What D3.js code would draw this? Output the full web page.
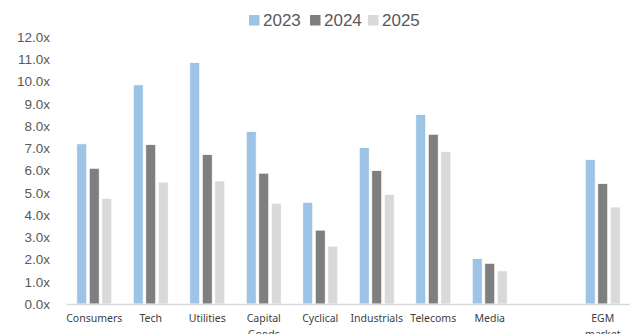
<!DOCTYPE html>
<html>
<head>
<meta charset="utf-8">
<script src="https://cdn.jsdelivr.net/npm/d3@7"></script>
<style>
  html, body { margin: 0; padding: 0; background: #fff; }
  svg { display: block; }
</style>
</head>
<body>
<svg id="chart" width="630" height="334"></svg>
<script>
// Sector valuation multiples by year
const categories = ["Consumers", "Tech", "Utilities", "Capital\nGoods", "Cyclical",
                    "Industrials", "Telecoms", "Media", "", "EGM\nmarket"];
const seriesNames = ["2023", "2024", "2025"];
const values2023 = [7.2, 9.85, 10.85, 7.75, 4.57, 7.03, 8.52, 2.05, null, 6.5];
const values2024 = [6.1, 7.17, 6.72, 5.88, 3.32, 6.0, 7.63, 1.83, null, 5.42];
const values2025 = [4.75, 5.48, 5.53, 4.53, 2.6, 4.93, 6.86, 1.49, null, 4.36];
const yTicks = [0, 1, 2, 3, 4, 5, 6, 7, 8, 9, 10, 11, 12];
const colors = ["#9dc3e6", "#7f7f7f", "#d9d9d9"];

const series = [values2023, values2024, values2025];

const svg = d3.select("#chart");
const plot = { left: 66, right: 631, top: 37, bottom: 304 };

const x = d3.scaleBand()
  .domain(d3.range(categories.length))
  .range([plot.left, plot.right])
  .paddingInner(0.38)
  .paddingOuter(0.19);

const xInner = d3.scaleBand()
  .domain(seriesNames)
  .range([0, x.bandwidth()])
  .paddingInner(0.2);

const y = d3.scaleLinear().domain([0, 12]).range([plot.bottom, plot.top]);

// Y axis labels
const yAxis = d3.axisLeft(y)
  .tickValues(yTicks)
  .tickFormat(d => d.toFixed(1) + "x")
  .tickSize(0)
  .tickPadding(0);

const yg = svg.append("g")
  .attr("transform", `translate(50,0)`)
  .call(yAxis);
yg.select(".domain").remove();
yg.selectAll("text")
  .attr("font-family", "Liberation Sans, Arial, sans-serif")
  .attr("font-size", 13.5)
  .attr("fill", "#595959");

// Bars
series.forEach((vals, si) => {
  svg.append("g")
    .selectAll("rect")
    .data(vals.map((v, i) => ({ v, i })).filter(d => d.v != null))
    .join("rect")
    .attr("x", d => x(d.i) + xInner(seriesNames[si]))
    .attr("y", d => y(d.v))
    .attr("width", xInner.bandwidth())
    .attr("height", d => y(0) - y(d.v))
    .attr("fill", colors[si])
    .attr("stroke", "#ffffff")
    .attr("stroke-width", 0.8);
});

// Category axis
const xAxis = d3.axisBottom(x).tickSize(0).tickFormat(() => "");
const xg = svg.append("g")
  .attr("transform", `translate(0,${plot.bottom})`)
  .call(xAxis);
xg.select(".domain")
  .attr("stroke", "#d9d9d9")
  .attr("stroke-width", 1.5);

const labels = svg.append("g")
  .attr("font-family", "Noto Sans, Open Sans, sans-serif")
  .attr("font-size", 10.5)
  .attr("fill", "#404040")
  .attr("text-anchor", "middle");

categories.forEach((c, i) => {
  const t = labels.append("text")
    .attr("x", x(i) + x.bandwidth() / 2)
    .attr("y", 322);
  c.split("\n").forEach((line, li) => {
    t.append("tspan")
      .attr("x", x(i) + x.bandwidth() / 2)
      .attr("dy", li === 0 ? 0 : 15.5)
      .text(line);
  });
});

// Legend
const legendX = [249, 310, 368];
const legend = svg.append("g");
seriesNames.forEach((name, i) => {
  legend.append("rect")
    .attr("x", legendX[i])
    .attr("y", 15)
    .attr("width", 10.5)
    .attr("height", 10.5)
    .attr("fill", colors[i]);
  legend.append("text")
    .attr("x", legendX[i] + 14)
    .attr("y", 26)
    .attr("font-family", "Liberation Sans, Arial, sans-serif")
    .attr("font-size", 17)
    .attr("fill", "#595959")
    .text(name);
});
</script>
</body>
</html>
